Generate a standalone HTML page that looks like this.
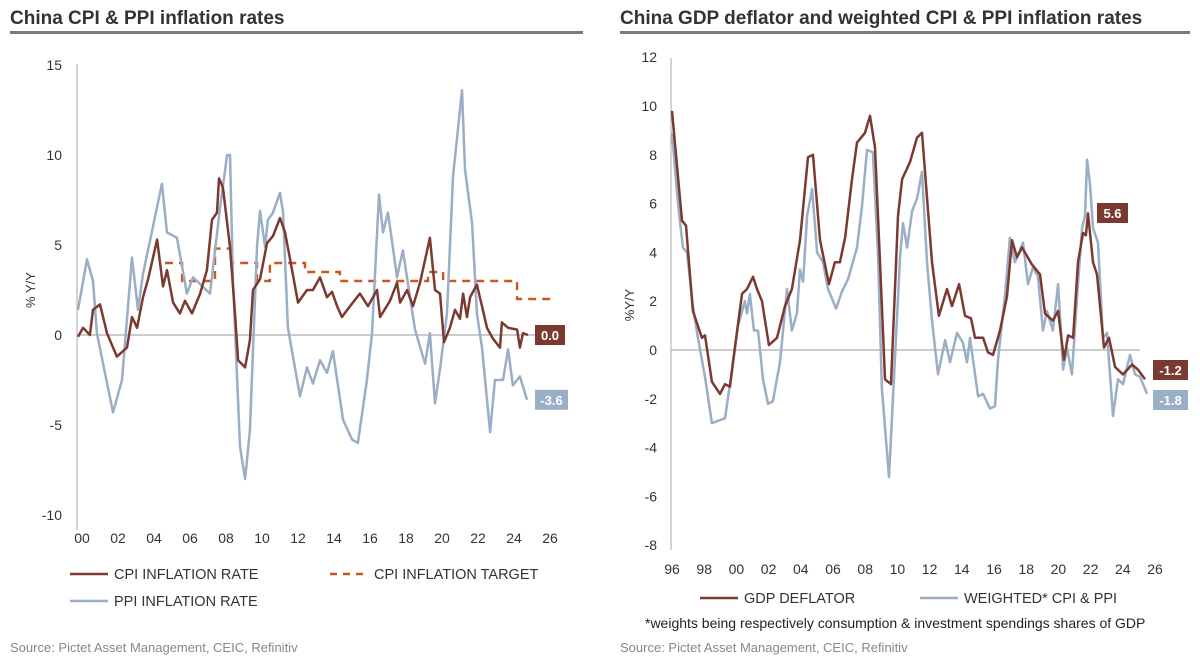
<!DOCTYPE html>
<html><head><meta charset="utf-8">
<style>
body{margin:0;background:#fff;font-family:"Liberation Sans",sans-serif;}
svg text{font-family:"Liberation Sans",sans-serif;}
</style></head>
<body>
<svg width="1200" height="664" viewBox="0 0 1200 664">
<text x="10" y="24" font-size="19" font-weight="600" fill="#333">China CPI &amp; PPI inflation rates</text>
<rect x="10" y="31" width="573" height="3" fill="#7a7a7a"/>
<text x="620" y="24" font-size="19" font-weight="600" fill="#333">China GDP deflator and weighted CPI &amp; PPI inflation rates</text>
<rect x="620" y="31" width="570" height="3" fill="#7a7a7a"/>
<g id="left"></g>
<g id="right"></g>
<text x="10" y="652" font-size="13" fill="#888">Source: Pictet Asset Management, CEIC, Refinitiv</text>
<text x="620" y="652" font-size="13" fill="#888">Source: Pictet Asset Management, CEIC, Refinitiv</text>
<text x="645" y="628" font-size="14" fill="#222">*weights being respectively consumption &amp; investment spendings shares of GDP</text>
</svg>
<script>
// ---- Left chart data (years offset from 2000) ----
const cpiYears = [-.22,.06,.44,.61,1.0,1.39,1.94,2.5,2.78,3.06,3.39,3.67,4.17,4.5,4.72,5.06,5.44,5.72,6.11,6.56,6.94,7.22,7.5,7.61,7.83,8.22,8.5,8.67,9.06,9.33,9.5,9.89,10.28,10.61,11.0,11.28,11.56,12.0,12.5,12.83,13.22,13.61,13.89,14.17,14.44,14.89,15.44,15.89,16.39,16.56,17.11,17.5,17.67,18.06,18.39,18.78,19.33,19.61,19.89,20.11,20.44,20.72,21.0,21.17,21.39,21.56,21.94,22.22,22.5,22.83,23.22,23.33,23.67,24.17,24.33,24.5,24.78];
const cpiValues = [-0.1,0.4,0,1.4,1.7,0.1,-1.2,-0.7,1.0,0.4,2.1,3.1,5.3,2.7,3.6,1.8,1.2,1.9,1.2,2.3,3.6,6.4,6.8,8.7,8.2,4.9,1.2,-1.4,-1.8,-0.3,2.5,3.1,5.1,5.5,6.5,5.7,4.2,1.8,2.5,2.5,3.2,2.1,2.4,1.6,1.0,1.6,2.3,1.6,2.5,1.0,1.9,2.9,1.8,2.5,1.6,2.9,5.4,2.5,2.3,-0.4,0.4,1.4,0.9,2.3,1.0,2.1,2.8,1.6,0.4,-0.2,-0.7,0.7,0.4,0.3,-0.7,0.1,0.0];
const ppiYears = [-.22,.28,.61,.83,1.72,2.22,2.78,3.11,3.39,3.94,4.44,4.72,5.28,5.83,6.17,7.11,7.67,8.06,8.22,8.39,8.78,9.06,9.33,9.72,9.89,10.17,10.33,10.61,11.0,11.17,11.44,12.11,12.5,12.83,13.22,13.61,13.94,14.5,15.0,15.33,15.83,16.11,16.5,16.72,17.0,17.5,17.83,18.22,18.5,19.06,19.33,19.61,19.89,20.28,20.61,21.11,21.28,21.67,21.94,22.22,22.67,22.94,23.39,23.67,23.94,24.33,24.72];
const ppiValues = [1.4,4.2,3.0,0.1,-4.3,-2.5,4.3,1.4,3.4,6.0,8.4,5.7,5.4,2.3,3.2,2.3,7.1,10,10,3,-6.2,-8.0,-5.3,4.9,6.9,4.9,6.4,6.8,7.9,6.8,0.4,-3.4,-1.8,-2.7,-1.4,-2.1,-0.9,-4.7,-5.8,-6.0,-2.5,0.1,7.8,5.7,6.8,3.2,4.7,2.1,0.3,-1.6,0.1,-3.8,-1.9,1.2,8.8,13.6,9.2,6.2,1.2,-0.7,-5.4,-2.5,-2.5,-0.8,-2.8,-2.3,-3.6];
const targetStarts = [4.61,5.56,7.39,8.33,9.72,10.44,12.39,14.33,19.22,20.06,24.17];
const targetEnds = [5.56,7.39,8.33,9.72,10.44,12.39,14.33,19.22,20.06,24.17,26.28];
const targetValues = [4,3,4.8,4,3,4,3.5,3,3.5,3,2];
const leftYTicks = [15,10,5,0,-5,-10];
const leftXTicks = ["00","02","04","06","08","10","12","14","16","18","20","22","24","26"];
const leftLastCpi = "0.0", leftLastPpi = "-3.6";

// ---- Right chart data (years offset from 1996) ----
const gdpYears = [0,.62,.87,1.30,1.86,2.05,2.48,2.98,3.29,3.60,3.79,4.35,4.66,5.03,5.28,5.59,6.02,6.52,7.02,7.45,7.95,8.45,8.76,9.19,9.75,10.12,10.43,10.75,11.18,11.49,11.99,12.30,12.61,12.92,13.23,13.60,14.04,14.29,14.78,15.22,15.53,16.15,16.58,17.08,17.39,17.83,18.20,18.57,18.82,19.32,19.63,19.94,20.37,20.81,21.12,21.43,21.74,22.36,22.86,23.17,23.66,23.98,24.35,24.60,24.91,25.22,25.53,25.71,25.84,26.15,26.40,26.83,27.14,27.52,28.01,28.57,28.94,29.38];
const gdpValues = [9.8,5.3,5.1,1.6,0.5,0.6,-1.3,-1.8,-1.4,-1.5,-0.5,2.3,2.5,3.0,2.5,2.0,0.2,0.5,1.8,2.5,4.5,7.9,8.0,4.5,2.7,3.6,3.6,4.6,7.0,8.5,8.9,9.6,8.3,3.6,-1.2,-1.4,5.5,7.0,7.7,8.7,8.9,3.6,1.4,2.5,1.8,2.7,1.4,1.3,0.5,0.5,-0.1,-0.2,0.8,2.2,4.5,3.8,4.2,3.5,3.1,1.5,1.2,1.6,-0.4,0.6,0.5,3.6,4.8,4.7,5.6,3.6,3.1,0.1,0.5,-0.7,-1.0,-0.6,-0.8,-1.2];
const wYears = [0,.37,.68,.93,1.30,1.61,2.05,2.48,2.86,3.29,3.73,4.10,4.53,4.66,4.84,5.09,5.34,5.65,5.96,6.27,6.71,7.14,7.45,7.76,7.95,8.14,8.39,8.70,9.01,9.38,9.69,10.19,10.56,10.93,11.49,11.80,12.11,12.48,12.80,13.04,13.48,13.85,14.16,14.35,14.60,14.91,15.22,15.53,15.84,16.15,16.52,16.96,17.27,17.70,18.07,18.32,18.51,19.01,19.32,19.75,20.06,20.25,20.68,20.99,21.30,21.80,22.11,22.42,22.73,23.04,23.29,23.66,23.98,24.29,24.53,24.84,25.16,25.47,25.65,25.78,25.96,26.15,26.46,26.77,27.02,27.39,27.70,28.01,28.45,28.76,29.07,29.50];
const wValues = [8.9,6.0,4.2,4.0,1.8,0.5,-1.1,-3.0,-2.9,-2.8,-0.8,1.0,2.0,1.5,2.3,0.8,0.8,-1.2,-2.2,-2.1,-0.5,2.5,0.8,1.5,3.3,2.8,5.5,6.6,4.0,3.6,2.5,1.7,2.4,2.9,4.2,5.9,8.2,8.1,3.8,-1.6,-5.2,-0.3,3.8,5.2,4.2,5.7,6.2,7.3,3.6,1.2,-1.0,0.4,-0.5,0.7,0.3,-0.5,0.5,-1.9,-1.8,-2.4,-2.3,-0.4,2.2,4.6,3.6,4.4,2.7,3.4,3.0,0.8,1.6,0.8,2.7,-0.8,0.1,-1.0,2.2,5.0,5.5,7.8,6.8,5.0,4.4,0.5,0.7,-2.7,-1.2,-1.4,-0.2,-1.0,-1.1,-1.8];
const rightYTicks = [12,10,8,6,4,2,0,-2,-4,-6,-8];
const rightXTicks = ["96","98","00","02","04","06","08","10","12","14","16","18","20","22","24","26"];
const rightPeakLabel = "5.6", rightLastGdp = "-1.2", rightLastW = "-1.8";

const NS = "http://www.w3.org/2000/svg";
const RED = "#7b3a30", BLUE = "#9aaec6", ORANGE = "#c9581f";
function mk(parent, tag, attrs, text){
  const e = document.createElementNS(NS, tag);
  for (const k in attrs) e.setAttribute(k, attrs[k]);
  if (text !== undefined) e.textContent = text;
  parent.appendChild(e); return e;
}
function pathFrom(xs, vs, fx, fy){
  return xs.map((t,i)=>(i?"L":"M")+fx(t).toFixed(1)+","+fy(vs[i]).toFixed(1)).join("");
}

// ===== Left chart =====
const L = document.getElementById("left");
const lx = t => 82 + t*18;
const ly = v => 335 - v*18;
let el;
el = mk(L, "line", {x1:77,x2:77,y1:64,y2:530,stroke:"#aaa","stroke-width":1});


el = mk(L, "line", {x1:77,x2:560,y1:ly(0),y2:ly(0),stroke:"#999","stroke-width":1});


leftYTicks.forEach(v=>{
  const t = mk(L,"text",{x:62,y:ly(v)+5,"font-size":14,fill:"#333","text-anchor":"end"}, String(v));
  
  
});
leftXTicks.forEach((s,i)=>{
  const t = mk(L,"text",{x:lx(i*2),y:543,"font-size":14,fill:"#333","text-anchor":"middle"}, s);
  
  
});
el = mk(L,"text",{x:0,y:0,"font-size":13,fill:"#333","text-anchor":"middle",transform:"translate(35,290) rotate(-90)"},"% Y/Y");


let td = "";
targetStarts.forEach((s,i)=>{
  td += (i? "L":"M")+lx(s).toFixed(1)+","+ly(targetValues[i]).toFixed(1);
  td += "L"+lx(targetEnds[i]).toFixed(1)+","+ly(targetValues[i]).toFixed(1);
});
el = mk(L,"path",{d:td,fill:"none",stroke:ORANGE,"stroke-width":2.4,"stroke-dasharray":"8,6"});


el = mk(L,"path",{d:pathFrom(ppiYears,ppiValues,lx,ly),fill:"none",stroke:BLUE,"stroke-width":2.5,"stroke-linejoin":"round"});


el = mk(L,"path",{d:pathFrom(cpiYears,cpiValues,lx,ly),fill:"none",stroke:RED,"stroke-width":2.5,"stroke-linejoin":"round"});


function valBox(parent, x, y, w, color, txt, name){
  const g = mk(parent,"g",{});
  
  
  mk(g,"rect",{x:x,y:y-10,width:w,height:20,fill:color});
  mk(g,"text",{x:x+w/2,y:y+5,"font-size":13,"font-weight":"bold",fill:"#fff","text-anchor":"middle"},txt);
}
valBox(L,535,ly(cpiValues[cpiValues.length-1]),30,RED,leftLastCpi,"cpi-last-value-label");
valBox(L,535,ly(ppiValues[ppiValues.length-1]),33,BLUE,leftLastPpi,"ppi-last-value-label");
function legend(parent, x, y, color, dash, txt, name){
  const g = mk(parent,"g",{});
  
  
  const a = {x1:x,x2:x+38,y1:y,y2:y,stroke:color,"stroke-width":2.4};
  if (dash) a["stroke-dasharray"]="7,6";
  mk(g,"line",a);
  mk(g,"text",{x:x+44,y:y+5,"font-size":14.5,fill:"#333"},txt);
}
legend(L,70,574,RED,false,"CPI INFLATION RATE","legend-cpi");
legend(L,330,574,ORANGE,true,"CPI INFLATION TARGET","legend-cpi-target");
legend(L,70,601,BLUE,false,"PPI INFLATION RATE","legend-ppi");

// ===== Right chart =====
const R = document.getElementById("right");
const rx = t => 672 + t*16.1;
const ry = v => 350 - v*24.4;
el = mk(R,"line",{x1:671,x2:671,y1:58,y2:550,stroke:"#aaa","stroke-width":1});


el = mk(R,"line",{x1:671,x2:1140,y1:ry(0),y2:ry(0),stroke:"#999","stroke-width":1});


rightYTicks.forEach(v=>{
  const t = mk(R,"text",{x:657,y:ry(v)+5,"font-size":14,fill:"#333","text-anchor":"end"}, String(v));
  
  
});
rightXTicks.forEach((s,i)=>{
  const t = mk(R,"text",{x:rx(i*2),y:574,"font-size":14,fill:"#333","text-anchor":"middle"}, s);
  
  
});
el = mk(R,"text",{x:0,y:0,"font-size":13,fill:"#333","text-anchor":"middle",transform:"translate(634,305) rotate(-90)"},"%Y/Y");


el = mk(R,"path",{d:pathFrom(wYears,wValues,rx,ry),fill:"none",stroke:BLUE,"stroke-width":2.5,"stroke-linejoin":"round"});


el = mk(R,"path",{d:pathFrom(gdpYears,gdpValues,rx,ry),fill:"none",stroke:RED,"stroke-width":2.5,"stroke-linejoin":"round"});


valBox(R,1097,213,31,RED,rightPeakLabel,"gdp-peak-value-label");
valBox(R,1153,370,35,RED,rightLastGdp,"gdp-last-value-label");
valBox(R,1153,400,35,BLUE,rightLastW,"weighted-last-value-label");
legend(R,700,598,RED,false,"GDP DEFLATOR","legend-gdp-deflator");
legend(R,920,598,BLUE,false,"WEIGHTED* CPI & PPI","legend-weighted");
</script>
</body></html>
